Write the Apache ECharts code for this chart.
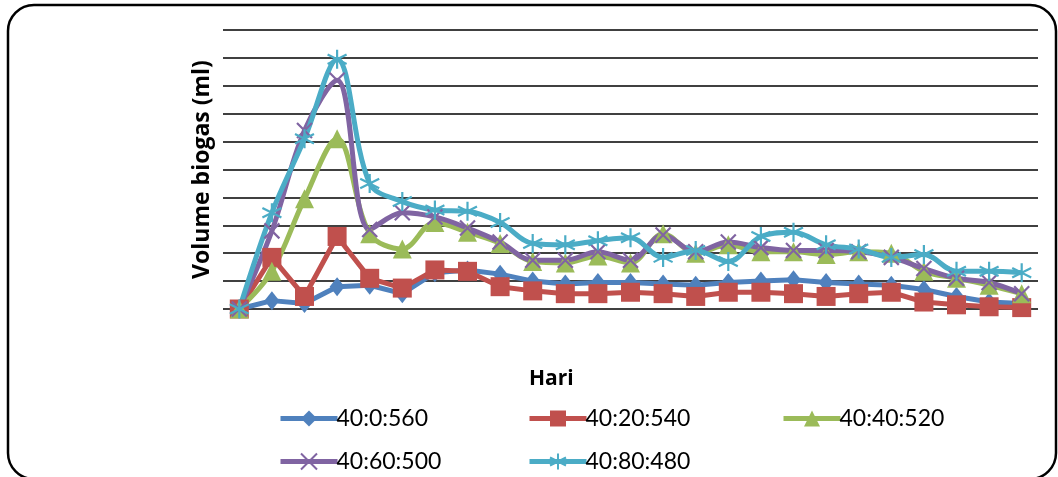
<!DOCTYPE html>
<html>
<head>
<meta charset="utf-8">
<script src="https://cdn.jsdelivr.net/npm/echarts@6/dist/echarts.min.js"></script>
<style>
html,body{margin:0;padding:0;background:#fff;}
#chart{width:1058px;height:477px;}
</style>
</head>
<body>
<div id="chart"></div>
<script>
// ---- data ----
const days = ['1','2','3','4','5','6','7','8','9','10','11','12','13','14','15','16','17','18','19','20','21','22','23','24','25'];
const seriesNames = ['40:0:560','40:20:540','40:40:520','40:60:500','40:80:480'];
const s40_0_560  = [0, 0.3, 0.2, 0.8, 0.85, 0.55, 1.3, 1.4, 1.25, 1.0, 0.9, 0.95, 0.95, 0.9, 0.85, 0.95, 1.0, 1.05, 0.95, 0.9, 0.85, 0.7, 0.45, 0.25, 0.2];
const s40_20_540 = [0, 1.85, 0.45, 2.6, 1.1, 0.75, 1.4, 1.35, 0.8, 0.65, 0.55, 0.55, 0.6, 0.55, 0.45, 0.6, 0.6, 0.55, 0.45, 0.55, 0.6, 0.25, 0.15, 0.08, 0.05];
const s40_40_520 = [0, 1.35, 3.95, 6.1, 2.7, 2.15, 3.1, 2.75, 2.35, 1.7, 1.65, 1.9, 1.65, 2.7, 2.0, 2.3, 2.05, 2.05, 1.95, 2.05, 2.0, 1.35, 1.1, 0.85, 0.55];
const s40_60_500 = [0, 2.8, 6.4, 8.2, 2.85, 3.45, 3.3, 2.9, 2.4, 1.75, 1.75, 2.05, 1.75, 2.65, 2.05, 2.4, 2.2, 2.1, 2.1, 2.05, 1.85, 1.45, 1.1, 0.95, 0.55];
const s40_80_480 = [0, 3.45, 6.1, 8.95, 4.5, 3.85, 3.55, 3.5, 3.1, 2.35, 2.3, 2.45, 2.55, 1.85, 2.1, 1.7, 2.6, 2.75, 2.3, 2.15, 1.85, 1.95, 1.35, 1.35, 1.3];
const yMin = 0, yMax = 10, yStep = 1;

const colors = ['#4F81BD','#C0504D','#9BBB59','#8064A2','#4BACC6'];
const crossPath = 'path://M0,0L10,10M10,0L0,10';
const starPath = 'path://M5,0L5,10M0.7,2.5L9.3,7.5M9.3,2.5L0.7,7.5';

const chart = echarts.init(document.getElementById('chart'), null, {renderer:'canvas'});

function mkSeries(i, data, symbol, size, smooth, stroke){
  return {
    name: seriesNames[i], type: 'line', data: data,
    smooth: smooth ? 0.35 : false,
    symbol: symbol, symbolSize: size,
    showAllSymbol: true,
    lineStyle: {color: colors[i], width: 5},
    itemStyle: stroke ? {color: 'rgba(0,0,0,0)', borderColor: colors[i], borderWidth: 2.2}
                      : {color: colors[i], borderWidth: 0},
    emphasis: {disabled: true},
    animation: false
  };
}

const legendPos = [[273,402],[522,402],[776,402],[273,445],[522,445]];
const legends = seriesNames.map((n,i)=>({
  data:[n], left: legendPos[i][0], top: legendPos[i][1],
  itemWidth: 57, itemHeight: 20, selectedMode: false,
  lineStyle: {width: 5},
  textStyle: {fontFamily: 'Lato', fontSize: 23, color: '#000', padding: [0,0,0,-6]}
}));

const option = {
  backgroundColor: '#fff',
  animation: false,
  textStyle: {fontFamily: 'Lato'},
  grid: {left: 223, right: 20, top: 30, bottom: 168, containLabel: false},
  legend: legends,
  xAxis: {
    type: 'category', data: days, boundaryGap: true,
    axisLine: {show: false}, axisTick: {show: false}, axisLabel: {show: false},
    splitLine: {show: false}
  },
  yAxis: {
    type: 'value', min: yMin, max: yMax, interval: yStep,
    name: 'Volume biogas (ml)', nameLocation: 'middle', nameGap: 9, nameRotate: 90,
    nameTextStyle: {fontFamily: 'Open Sans', fontWeight: 'bold', fontSize: 23, color: '#000'},
    axisLine: {show: false}, axisTick: {show: false}, axisLabel: {show: false},
    splitLine: {show: true, lineStyle: {color: '#000', width: 1.6}}
  },
  graphic: [
    {type: 'rect', shape: {x: 8, y: 5, width: 1048, height: 474, r: 26},
     style: {fill: 'none', stroke: '#000', lineWidth: 2.5}, z: 100, silent: true},
    {type: 'text', left: 529, top: 369,
     style: {text: 'Hari', font: 'bold 21px "Open Sans"', fill: '#000'}}
  ],
  series: [
    mkSeries(0, s40_0_560, 'diamond', [15,19], false, false),
    mkSeries(1, s40_20_540, 'rect', 19, false, false),
    mkSeries(2, s40_40_520, 'triangle', 19, true, false),
    mkSeries(3, s40_60_500, crossPath, 15, true, true),
    mkSeries(4, s40_80_480, starPath, 19, true, true)
  ]
};
chart.setOption(option);
</script>
</body>
</html>
